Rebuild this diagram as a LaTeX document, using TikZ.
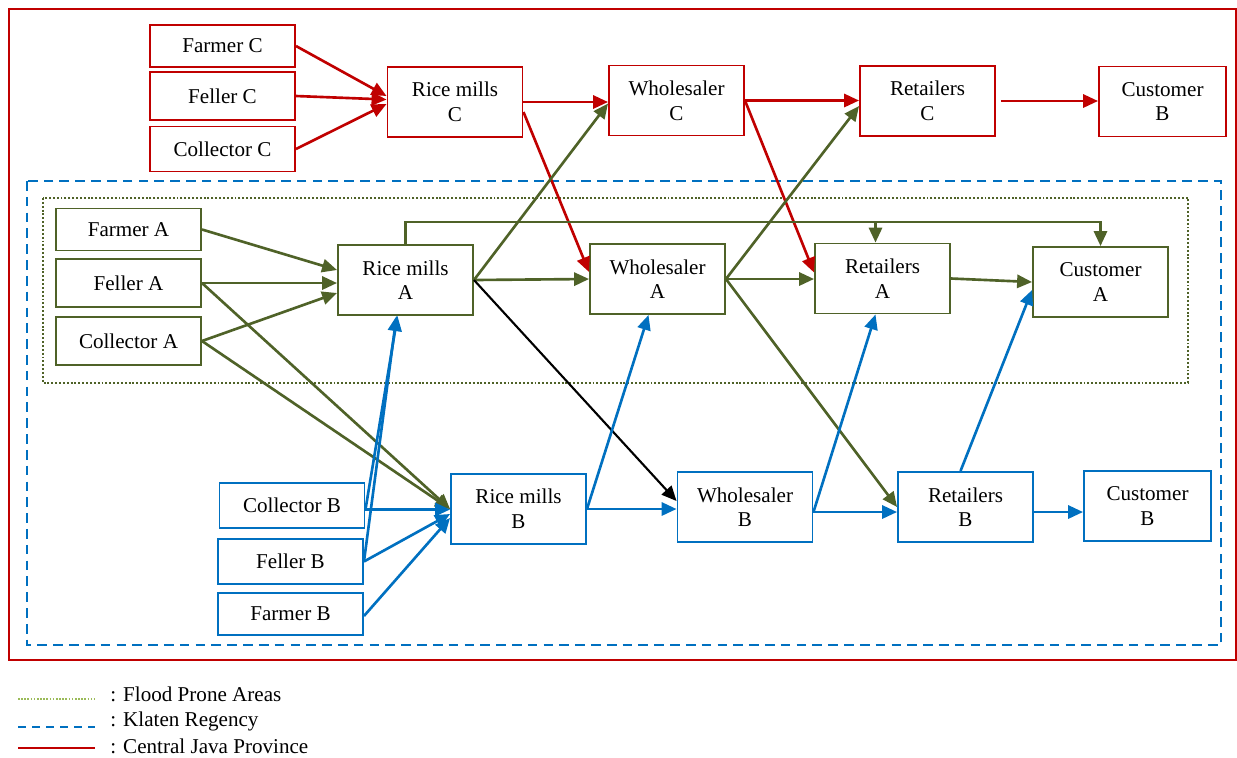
\documentclass[tikz,border=0pt]{standalone}
\usepackage{fontspec}
\setmainfont{Liberation Serif}
\usepackage{tikz}
\usetikzlibrary{arrows.meta, positioning}
\usepackage{xcolor}
\definecolor{javared}{HTML}{C00000}
\definecolor{floodgreen}{HTML}{4F6228}
\definecolor{legendgreen}{HTML}{9BBB59}
\definecolor{klatenblue}{HTML}{0070C0}

\begin{document}
\begin{tikzpicture}[
    box/.style={rectangle, line width=1.1pt, fill=white, align=center, inner sep=0pt, font=\fontsize{12}{14}\selectfont},
    src/.style={box, minimum width=2.9cm, minimum height=0.9cm},
    chain/.style={box, minimum width=2.7cm, minimum height=1.4cm},
    cbox/.style={draw=javared},
    abox/.style={draw=floodgreen},
    bbox/.style={draw=klatenblue},
    arrow/.style={-{Triangle[length=8.5pt, width=7.5pt]}, line width=1.5pt},
    rarrow/.style={arrow, javared},
    garrow/.style={arrow, floodgreen},
    barrow/.style={arrow, klatenblue},
    karrow/.style={arrow, black, line width=1.2pt}
]
\useasboundingbox (0,0) rectangle (24.74,-15.14);

% regions
\draw[javared, line width=1.2pt] (0.18,-0.18) rectangle (24.72,-13.2);
\draw[klatenblue, line width=1.2pt, dash pattern=on 5.5pt off 3.5pt] (0.54,-3.62) rectangle (24.42,-12.9);
\draw[floodgreen, line width=1.2pt, dash pattern=on 1.1pt off 1.1pt] (0.86,-3.96) rectangle (23.76,-7.66);

% Central Java
\node[src, cbox, minimum height=0.84cm] (farmerC) at (4.45,-0.92) {Farmer C};
\node[src, cbox, minimum height=0.96cm] (fellerC) at (4.45,-1.92) {Feller C};
\node[src, cbox] (collC) at (4.45,-2.98) {Collector C};
\node[chain, cbox] (riceC) at (9.10,-2.04) {Rice mills\\C};
\node[chain, cbox] (wholeC) at (13.53,-2.01) {Wholesaler\\C};
\node[chain, cbox] (retC) at (18.55,-2.02) {Retailers\\C};
\node[chain, cbox, minimum width=2.54cm] (custC) at (23.25,-2.03) {Customer\\B};

% flood prone areas
\node[src, abox, minimum height=0.84cm] (farmerA) at (2.57,-4.59) {Farmer A};
\node[src, abox, minimum height=0.96cm] (fellerA) at (2.57,-5.66) {Feller A};
\node[src, abox, minimum height=0.96cm] (collA) at (2.57,-6.82) {Collector A};
\node[chain, abox] (riceA) at (8.11,-5.60) {Rice mills\\A};
\node[chain, abox] (wholeA) at (13.15,-5.58) {Wholesaler\\A};
\node[chain, abox] (retA) at (17.65,-5.57) {Retailers\\A};
\node[chain, abox] (custA) at (22.01,-5.64) {Customer\\A};

% Klaten
\node[src, bbox] (collB) at (5.84,-10.11) {Collector B};
\node[src, bbox] (fellerB) at (5.81,-11.23) {Feller B};
\node[src, bbox, minimum height=0.84cm] (farmerB) at (5.81,-12.28) {Farmer B};
\node[chain, bbox] (riceB) at (10.37,-10.18) {Rice mills\\B};
\node[chain, bbox] (wholeB) at (14.90,-10.14) {Wholesaler\\B};
\node[chain, bbox] (retB) at (19.31,-10.14) {Retailers\\B};
\node[chain, bbox, minimum width=2.54cm] (custB) at (22.95,-10.12) {Customer\\B};

% red flows
\draw[rarrow] (farmerC.east) -- ([yshift=0.12cm]riceC.west);
\draw[rarrow] (fellerC.east) -- ([yshift=0.05cm]riceC.west);
\draw[rarrow] (collC.east) -- ([yshift=-0.04cm]riceC.west);
\draw[rarrow] (riceC.east) -- (riceC.east -| wholeC.west);
\draw[rarrow] ([yshift=-0.2cm]riceC.east) -- ([yshift=0.14cm]wholeA.west);
\draw[rarrow] (wholeC.east) -- (wholeC.east -| retC.west);
\draw[rarrow] (wholeC.east) -- ([yshift=0.12cm]retA.west);
\draw[rarrow] ([xshift=0.1cm]retC.east) -- (retC.east -| custC.west);

% green flows
\coordinate (topbus) at (0,-4.44);
\draw[garrow] (farmerA.east) -- ([yshift=0.2cm]riceA.west);
\draw[garrow] (fellerA.east) -- (fellerA.east -| riceA.west);
\draw[garrow] (collA.east) -- ([yshift=-0.26cm]riceA.west);
\draw[garrow] (fellerA.east) -- (riceB.west);
\draw[garrow] (collA.east) -- (riceB.west);
\draw[garrow] (riceA.east) -- (wholeA.west);
\draw[garrow] (riceA.east) -- ([yshift=-0.06cm]wholeC.west);
\draw[garrow] (riceA.north) -- (riceA.north |- topbus) -| (custA.north);
\draw[garrow] ([xshift=-0.14cm]retA.north |- topbus) -- ([xshift=-0.14cm]retA.north);
\draw[garrow] (wholeA.east) -- (wholeA.east -| retA.west);
\draw[garrow] (wholeA.east) -- ([yshift=-0.1cm]retC.west);
\draw[garrow] (wholeA.east) -- (retB.west);
\draw[garrow] (retA.east) -- (custA.west);

% rice mills A to wholesaler B
\draw[karrow] (riceA.east) -- ([yshift=0.12cm]wholeB.west);

% blue flows
\draw[barrow] ([yshift=-0.08cm]collB.east) -- ([yshift=-0.08cm]collB.east -| riceB.west);
\draw[barrow] ([yshift=-0.08cm]collB.east) -- ([xshift=-0.16cm]riceA.south);
\draw[barrow] (fellerB.east) -- ([xshift=-0.18cm]riceA.south);
\draw[barrow] (fellerB.east) -- ([yshift=-0.1cm]riceB.west);
\draw[barrow] ([yshift=-0.04cm]farmerB.east) -- ([yshift=-0.18cm]riceB.west);
\draw[barrow] (riceB.east) -- (riceB.east -| wholeB.west);
\draw[barrow] (riceB.east) -- ([xshift=-0.18cm]wholeA.south);
\draw[barrow] ([yshift=-0.1cm]wholeB.east) -- ([yshift=-0.1cm]wholeB.east -| retB.west);
\draw[barrow] ([yshift=-0.1cm]wholeB.east) -- ([xshift=-0.14cm]retA.south);
\draw[barrow] ([xshift=-0.1cm]retB.north) -- ([yshift=-0.16cm]custA.west);
\draw[barrow] ([yshift=-0.1cm]retB.east) -- ([yshift=-0.1cm]retB.east -| custB.west);

% legend
\draw[legendgreen, line width=0.9pt, dash pattern=on 0.9pt off 0.9pt] (0.36,-13.98) -- (1.9,-13.98);
\draw[klatenblue, line width=1.1pt, dash pattern=on 4.5pt off 3.5pt] (0.36,-14.54) -- (1.9,-14.54);
\draw[javared, line width=1.2pt] (0.36,-14.96) -- (1.9,-14.96);
\node[anchor=west, inner sep=0pt, font=\fontsize{12}{14}\selectfont] (legFlood) at (2.2,-13.88) {: Flood Prone Areas};
\node[anchor=west, inner sep=0pt, font=\fontsize{12}{14}\selectfont] (legKlaten) at (2.2,-14.42) {: Klaten Regency};
\node[anchor=west, inner sep=0pt, font=\fontsize{12}{14}\selectfont] (legJava) at (2.2,-14.92) {: Central Java Province};
\end{tikzpicture}
\end{document}
